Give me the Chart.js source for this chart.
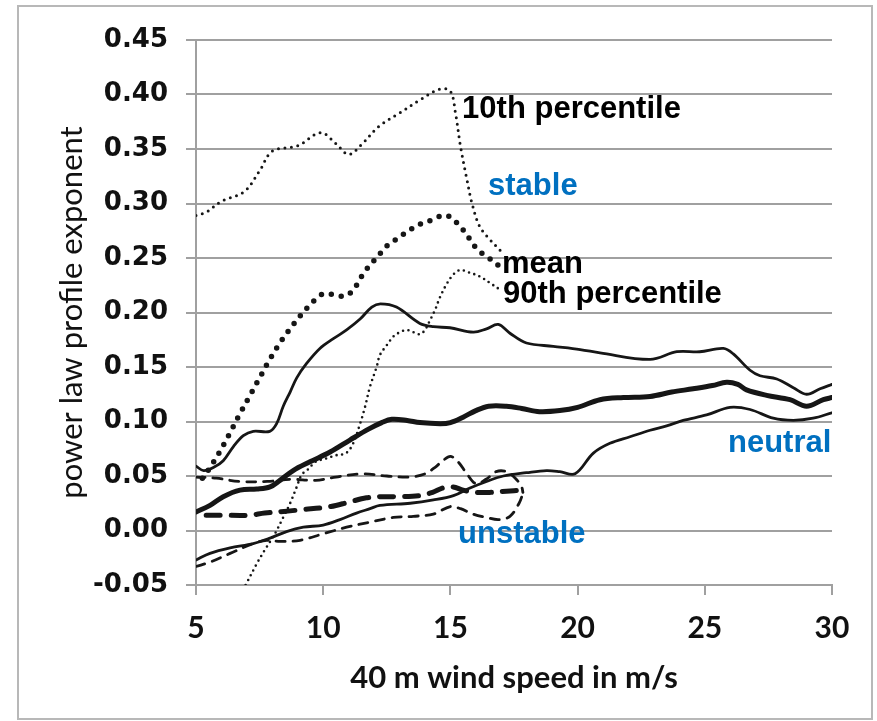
<!DOCTYPE html>
<html lang="en">
<head>
  <meta charset="UTF-8">
  <title>Power law profile exponent vs wind speed</title>
  <script src="https://cdn.jsdelivr.net/npm/chart.js"></script>
  <style>
    body {
      margin: 0;
      background: #fff;
    }
    .frame {
      position: absolute;
      left: 17px;
      top: 5px;
      width: 856px;
      height: 715px;
      border: 2px solid #b8b8b8;
      box-sizing: border-box;
    }
    canvas {
      position: absolute;
      left: 0;
      top: 0;
    }
  </style>
</head>
<body>

<div class="frame"></div>
<canvas id="chart" width="877" height="721"></canvas>

<script>
  // axes
  const xTicks = [5, 10, 15, 20, 25, 30];
  const yTicks = [-0.05, 0, 0.05, 0.10, 0.15, 0.20, 0.25, 0.30, 0.35, 0.40, 0.45];
  const yTickLabels = ['-0.05', '0.00', '0.05', '0.10', '0.15', '0.20', '0.25', '0.30', '0.35', '0.40', '0.45'];

  // stable (dotted)
  const stable10X = [5, 5.4, 6, 6.9, 7.5, 8.0, 9.0, 9.9, 10.5, 11.0, 11.5, 12.2, 13.0, 13.8, 14.6, 15.0, 15.2, 15.4, 15.65, 15.85, 16.15, 16.55, 17.0];
  const stable10Y = [0.289, 0.292, 0.302, 0.311, 0.330, 0.348, 0.353, 0.365, 0.355, 0.345, 0.354, 0.371, 0.383, 0.395, 0.405, 0.403, 0.383, 0.352, 0.322, 0.300, 0.279, 0.267, 0.256];

  const stableMeanX = [5.25, 5.5, 5.9, 6.3, 6.7, 7.1, 7.5, 7.9, 8.3, 8.6, 9.1, 9.4, 9.7, 10.0, 10.5, 10.85, 11.2, 11.4, 11.65, 11.9, 12.2, 12.45, 12.8, 13.1, 13.5, 13.9, 14.3, 14.7, 15.05, 15.3, 15.6, 15.85, 16.1, 16.45, 16.95];
  const stableMeanY = [0.048, 0.056, 0.071, 0.088, 0.106, 0.123, 0.140, 0.157, 0.172, 0.182, 0.197, 0.205, 0.212, 0.217, 0.216, 0.215, 0.221, 0.229, 0.238, 0.245, 0.253, 0.260, 0.266, 0.271, 0.277, 0.282, 0.285, 0.289, 0.287, 0.281, 0.273, 0.264, 0.257, 0.251, 0.242];

  const stable90X = [6.95, 7.4, 7.7, 8.1, 8.45, 8.7, 8.96, 9.15, 9.4, 9.7, 10.1, 10.5, 10.9, 11.18, 11.45, 11.64, 11.84, 12.1, 12.23, 12.5, 12.76, 13.02, 13.28, 13.54, 13.8, 14.0, 14.2, 14.39, 14.59, 14.85, 15.12, 15.38, 15.7, 16.16, 16.56, 16.95];
  const stable90Y = [-0.05, -0.030, -0.018, -0.003, 0.013, 0.025, 0.040, 0.051, 0.056, 0.063, 0.066, 0.069, 0.071, 0.080, 0.098, 0.113, 0.132, 0.150, 0.161, 0.170, 0.178, 0.182, 0.184, 0.182, 0.180, 0.184, 0.193, 0.202, 0.214, 0.226, 0.235, 0.239, 0.237, 0.233, 0.227, 0.221];

  // neutral (solid)
  const neutral10X = [5, 5.3, 5.7, 6.07, 6.47, 6.86, 7.25, 7.9, 8.17, 8.43, 8.7, 8.96, 9.34, 9.87, 10.4, 10.92, 11.45, 11.91, 12.25, 12.88, 13.8, 14.33, 14.98, 15.9, 16.42, 16.88, 17.34, 17.99, 19.04, 20.1, 20.88, 22.85, 23.9, 24.8, 25.73, 26.12, 26.78, 27.17, 27.83, 28.48, 29.0, 29.53, 30];
  const neutral10Y = [0.059, 0.055, 0.058, 0.064, 0.077, 0.087, 0.091, 0.091, 0.098, 0.114, 0.127, 0.140, 0.153, 0.167, 0.176, 0.184, 0.194, 0.205, 0.208, 0.205, 0.190, 0.187, 0.186, 0.182, 0.185, 0.189, 0.181, 0.172, 0.169, 0.166, 0.163, 0.157, 0.164, 0.164, 0.167, 0.162, 0.147, 0.142, 0.139, 0.131, 0.125, 0.130, 0.134];

  const neutralMeanX = [5, 5.55, 6.07, 6.73, 7.39, 7.91, 8.3, 8.82, 9.48, 10.27, 11.05, 11.78, 12.3, 12.7, 13.3, 13.8, 14.6, 15.0, 15.5, 16.0, 16.5, 17.2, 17.8, 18.5, 19.3, 20.0, 20.88, 21.8, 22.85, 23.7, 24.54, 25.3, 25.86, 26.3, 26.64, 27.43, 28.35, 29.0, 29.66, 30];
  const neutralMeanY = [0.017, 0.023, 0.031, 0.037, 0.038, 0.040, 0.046, 0.055, 0.063, 0.072, 0.083, 0.093, 0.099, 0.102, 0.101, 0.099, 0.098, 0.099, 0.104, 0.110, 0.114, 0.114, 0.112, 0.109, 0.110, 0.113, 0.120, 0.122, 0.123, 0.127, 0.130, 0.133, 0.136, 0.134, 0.129, 0.124, 0.120, 0.114, 0.120, 0.122];

  const neutral90X = [5, 5.55, 6.34, 7.25, 7.91, 8.56, 9.22, 10.0, 10.66, 11.31, 11.84, 12.23, 13.42, 14.33, 15.12, 15.77, 16.42, 17.08, 17.99, 18.78, 19.3, 19.9, 20.62, 21.27, 22.06, 22.85, 23.5, 24.15, 25.07, 25.99, 26.78, 27.69, 28.48, 29.26, 30];
  const neutral90Y = [-0.027, -0.021, -0.016, -0.012, -0.007, -0.001, 0.003, 0.005, 0.010, 0.016, 0.020, 0.023, 0.025, 0.028, 0.032, 0.039, 0.045, 0.050, 0.053, 0.055, 0.054, 0.052, 0.071, 0.080, 0.086, 0.092, 0.096, 0.101, 0.106, 0.113, 0.111, 0.103, 0.101, 0.103, 0.108];

  // unstable (dashed)
  const unstable10X = [5, 5.8, 6.7, 7.8, 8.7, 9.7, 10.5, 11.5, 12.5, 13.4, 14.0, 14.4, 14.7, 15.0, 15.3, 15.65, 16.0, 16.4, 16.8, 17.2, 17.55, 17.8, 17.85];
  const unstable10Y = [0.049, 0.048, 0.045, 0.045, 0.047, 0.046, 0.049, 0.052, 0.050, 0.049, 0.052, 0.058, 0.064, 0.068, 0.063, 0.052, 0.043, 0.047, 0.054, 0.054, 0.048, 0.040, 0.035];

  const unstableMeanX = [5.4, 6.0, 7.1, 7.7, 8.7, 9.1, 10.3, 11.0, 11.7, 12.3, 13.0, 13.8, 14.3, 14.7, 15.1, 15.5, 16.0, 16.6, 17.2, 17.8];
  const unstableMeanY = [0.014, 0.014, 0.014, 0.016, 0.018, 0.019, 0.022, 0.026, 0.030, 0.031, 0.031, 0.032, 0.035, 0.039, 0.040, 0.037, 0.035, 0.035, 0.036, 0.037];

  const unstable90X = [5, 5.55, 6.34, 7.25, 7.78, 8.3, 9.09, 10.0, 10.92, 11.71, 12.76, 13.54, 14.33, 15.0, 15.4, 15.9, 16.4, 16.9, 17.34, 17.7, 17.85];
  const unstable90Y = [-0.033, -0.029, -0.021, -0.012, -0.009, -0.010, -0.009, -0.003, 0.003, 0.007, 0.012, 0.013, 0.015, 0.022, 0.020, 0.015, 0.012, 0.010, 0.013, 0.025, 0.034];

  // text in the plot (data coordinates, alphabetic baseline)
  const notes = [
    { text: '10th percentile', x: 15.46, y: 0.378, color: '#000' },
    { text: 'stable', x: 16.48, y: 0.308, color: '#0070c0' },
    { text: 'mean', x: 17.03, y: 0.236, color: '#000' },
    { text: '90th percentile', x: 17.07, y: 0.209, color: '#000' },
    { text: 'neutral', x: 25.91, y: 0.072, color: '#0070c0' },
    { text: 'unstable', x: 15.30, y: -0.0115, color: '#0070c0' }
  ];

  const pts = (xs, ys) => xs.map((x, i) => ({ x: x, y: ys[i] }));
  const ink = '#161616';
  const grey = '#a0a0a0';

  function line(xs, ys, width, dash) {
    return {
      data: pts(xs, ys),
      showLine: true,
      pointRadius: 0,
      borderColor: ink,
      borderWidth: width,
      borderDash: dash,
      borderCapStyle: 'round',
      tension: 0.35,
      fill: false
    };
  }

  const notesPlugin = {
    id: 'notes',
    afterDatasetsDraw(chart) {
      const ctx = chart.ctx;
      const sx = chart.scales.x, sy = chart.scales.y;
      ctx.save();
      ctx.font = 'bold 31px "Liberation Sans", Arial, sans-serif';
      ctx.textAlign = 'left';
      ctx.textBaseline = 'alphabetic';
      notes.forEach(n => {
        ctx.fillStyle = n.color;
        ctx.fillText(n.text, sx.getPixelForValue(n.x), sy.getPixelForValue(n.y));
      });
      ctx.restore();
    }
  };

  new Chart(document.getElementById('chart'), {
    type: 'scatter',
    data: {
      datasets: [
        line(stable10X, stable10Y, 3, [0, 6.5]),
        line(stableMeanX, stableMeanY, 5.5, [0, 10]),
        line(stable90X, stable90Y, 2.6, [0, 5.5]),
        line(neutral10X, neutral10Y, 2.8, []),
        line(neutralMeanX, neutralMeanY, 5, []),
        line(neutral90X, neutral90Y, 2.8, []),
        line(unstable10X, unstable10Y, 2.8, [9, 8]),
        line(unstableMeanX, unstableMeanY, 5, [14, 11]),
        line(unstable90X, unstable90Y, 2.8, [9, 8])
      ]
    },
    options: {
      responsive: false,
      animation: false,
      layout: { padding: { left: 0, top: 40, right: 45, bottom: 0 } },
      plugins: {
        legend: { display: false },
        tooltip: { enabled: false }
      },
      scales: {
        x: {
          type: 'linear',
          min: 5,
          max: 30,
          afterBuildTicks: s => { s.ticks = xTicks.map(v => ({ value: v })); },
          afterFit: s => { s.height = 136; },
          grid: { drawOnChartArea: false, drawTicks: true, tickLength: 10, color: grey, lineWidth: 2 },
          border: { color: grey, width: 2 },
          ticks: { color: '#111', padding: 15, maxRotation: 0, font: { family: 'Lato', size: 30, weight: 'bold' } },
          title: {
            display: true,
            text: '40 m wind speed in m/s',
            color: '#111',
            font: { family: 'Lato', size: 31, weight: 'bold' },
            padding: { top: 0, bottom: 24 }
          }
        },
        y: {
          type: 'linear',
          min: -0.05,
          max: 0.45,
          afterBuildTicks: s => { s.ticks = yTicks.map(v => ({ value: v })); },
          afterFit: s => { s.width = 196; },
          grid: { drawTicks: true, tickLength: 10, color: grey, lineWidth: 2 },
          border: { color: grey, width: 2 },
          ticks: {
            color: '#111',
            padding: 18,
            font: { family: 'DejaVu Sans', size: 26, weight: 'bold' },
            callback: (v, i) => yTickLabels[i]
          },
          title: {
            display: true,
            text: 'power law profile exponent',
            color: '#111',
            font: { family: 'Lato', size: 31 },
            padding: { top: 53, bottom: 0 }
          }
        }
      }
    },
    plugins: [notesPlugin]
  });
</script>

</body>
</html>
